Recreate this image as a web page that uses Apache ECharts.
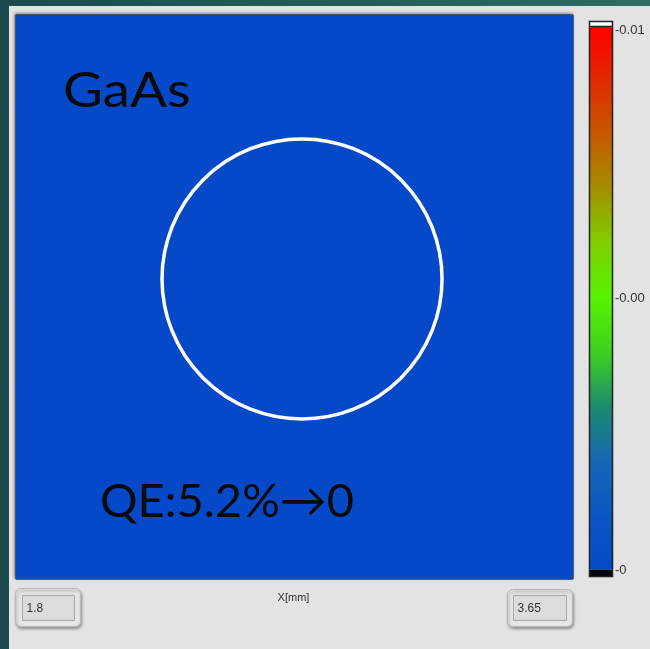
<!DOCTYPE html>
<html>
<head>
<meta charset="utf-8">
<title>GaAs QE map</title>
<script src="https://cdn.jsdelivr.net/npm/echarts@6/dist/echarts.min.js"></script>
<style>
  html, body { margin: 0; padding: 0; width: 650px; height: 649px; overflow: hidden;
    background: linear-gradient(90deg, #1c4a4e 0%, #27605b 60%, #2f6c62 100%); }
  #panel { position: absolute; left: 9px; top: 6px; width: 641px; height: 643px; background: #e3e3e3; }
</style>
</head>
<body>
<div id="panel"></div>
<script>
// Sample label and measured photoemission drop
const sampleName = 'GaAs';
const qeLabel = 'QE:5.2%\u21920';

// X scan range [mm] shown in the corner boxes, Y range of the map [mm]
const xRange = [1.8, 3.65];
const yRange = [0, 1.87];
const xAxisName = 'X[mm]';

// Intensity scale: value range and its printed tick labels (top to bottom)
const scaleRange = [0, 0.01];
const scaleTickValues = [0.01, 0.005, 0];
const scaleTickLabels = ['-0.01', '-0.00', '-0'];

// Map cells (rows top to bottom); the cathode reads zero everywhere after the drop
const mapCols = ['c0', 'c1', 'c2', 'c3', 'c4', 'c5'];
const mapRows = ['r0', 'r1', 'r2', 'r3', 'r4', 'r5'];
const mapValues = [
  [0, 0, 0, 0, 0, 0],
  [0, 0, 0, 0, 0, 0],
  [0, 0, 0, 0, 0, 0],
  [0, 0, 0, 0, 0, 0],
  [0, 0, 0, 0, 0, 0],
  [0, 0, 0, 0, 0, 0]
];

// Laser spot outline: centre [mm] and radius [mm]
const spotCenter = [2.75, 0.995];
const spotRadius = 0.465;

const cells = [];
mapValues.forEach((row, r) => row.forEach((v, c) => cells.push([c, mapRows.length - 1 - r, v])));

// Colour ramp of the scale, low to high
const rampColors = ['#0649c8', '#0a55c4', '#1468b6', '#1c8a6c', '#3cd020', '#55f400', '#7fd000', '#a39000', '#c45a00', '#e02a00', '#ff0000'];

const chart = echarts.init(document.getElementById('panel'), null, { renderer: 'canvas' });

const G = { left: 7, top: 9, width: 557, height: 564 };
const BAR = { left: 580, top: 21, width: 24, height: 543 };

chart.setOption({
  backgroundColor: 'transparent',
  animation: false,
  grid: [
    { left: G.left, top: G.top, width: G.width, height: G.height, show: true,
      borderColor: '#1a1a1a', borderWidth: 1, backgroundColor: rampColors[0],
      shadowColor: 'rgba(0,0,0,0.45)', shadowBlur: 3, shadowOffsetX: -1, shadowOffsetY: -1 },
    { left: G.left, top: G.top, width: G.width, height: G.height }
  ],
  xAxis: [
    { type: 'category', gridIndex: 0, data: mapCols, show: false },
    { type: 'value', gridIndex: 1, min: xRange[0], max: xRange[1], show: false }
  ],
  yAxis: [
    { type: 'category', gridIndex: 0, data: mapRows, show: false },
    { type: 'value', gridIndex: 1, min: yRange[0], max: yRange[1], show: false }
  ],
  visualMap: {
    type: 'continuous', min: scaleRange[0], max: scaleRange[1],
    calculable: false, realtime: false, hoverLink: false,
    left: BAR.left, top: BAR.top, itemWidth: BAR.width, itemHeight: BAR.height,
    padding: 0, textGap: 0, text: null, showLabel: false,
    inRange: { color: rampColors },
    seriesIndex: 0
  },
  series: [{
    type: 'heatmap', xAxisIndex: 0, yAxisIndex: 0, data: cells,
    itemStyle: { borderWidth: 0 }, silent: true, progressive: 0
  }]
});

function build() {
  const c = chart.convertToPixel({ gridIndex: 1 }, spotCenter);
  const edge = chart.convertToPixel({ gridIndex: 1 }, [spotCenter[0] + spotRadius, spotCenter[1]]);
  const r = edge[0] - c[0];

  const barY = v => BAR.top + (scaleRange[1] - v) / (scaleRange[1] - scaleRange[0]) * BAR.height;

  const els = [];
  // spot outline
  els.push({ type: 'circle', shape: { cx: c[0], cy: c[1], r: r }, z: 50,
    style: { fill: 'transparent', stroke: '#ffffff', lineWidth: 3.5 } });
  // large annotations
  els.push({ type: 'text', x: 54, y: 86, scaleX: 1.14, z: 50,
    style: { text: sampleName, font: '400 48px "Lato", sans-serif', fill: '#0a0a0a', textVerticalAlign: 'middle' } });
  els.push({ type: 'text', x: 91, y: 496, z: 50,
    style: { text: qeLabel, font: '400 47px "Lato", sans-serif', fill: '#0a0a0a', textVerticalAlign: 'middle' } });

  // colour bar frame, over-range cap and under-range cap
  els.push({ type: 'rect', shape: { x: BAR.left, y: BAR.top - 5, width: BAR.width, height: 5 }, z: 50,
    style: { fill: '#ffffff' } });
  els.push({ type: 'rect', shape: { x: BAR.left, y: BAR.top + BAR.height, width: BAR.width, height: 7 }, z: 50,
    style: { fill: '#000000' } });
  els.push({ type: 'rect', shape: { x: BAR.left + 0.5, y: BAR.top - 5.5, width: BAR.width - 1, height: BAR.height + 12 }, z: 51,
    style: { fill: 'transparent', stroke: '#222', lineWidth: 1.5 } });
  els.push({ type: 'line', shape: { x1: BAR.left, y1: BAR.top - 0.5, x2: BAR.left + BAR.width, y2: BAR.top - 0.5 }, z: 51,
    style: { stroke: '#222', lineWidth: 1.5 } });
  scaleTickValues.forEach((v, i) => {
    els.push({ type: 'text', x: BAR.left + BAR.width + 2, y: barY(v) + (i === 0 ? 3 : 0), z: 50,
      style: { text: scaleTickLabels[i], font: '13px "Liberation Sans", sans-serif', fill: '#333', textVerticalAlign: 'middle' } });
  });

  // scan-range boxes
  const box = (x, y, w, h, ix, iy, iw, ih, txt) => {
    els.push({ type: 'rect', shape: { x: x, y: y, width: w, height: h, r: 5 }, z: 40,
      style: { fill: '#e6e6e6', stroke: '#b8b8b8', lineWidth: 1, shadowColor: 'rgba(0,0,0,0.35)', shadowBlur: 3, shadowOffsetX: 1, shadowOffsetY: 2 } });
    els.push({ type: 'rect', shape: { x: ix, y: iy, width: iw, height: ih }, z: 41,
      style: { fill: '#dcdcdc', stroke: '#a8a8a8', lineWidth: 1 } });
    els.push({ type: 'text', x: ix + 4, y: iy + ih / 2 + 1, z: 42,
      style: { text: txt, font: '12px "Liberation Sans", sans-serif', fill: '#333', textVerticalAlign: 'middle' } });
  };
  box(6.5, 582.5, 65, 38, 13.5, 589.5, 52, 25, String(xRange[0]));
  box(498.5, 583.5, 65, 37, 504.5, 589.5, 53, 25, String(xRange[1]));
  els.push({ type: 'text', x: G.left + G.width / 2 - 1, y: 592, z: 42,
    style: { text: xAxisName, font: '11px "Liberation Sans", sans-serif', fill: '#333', textAlign: 'center', textVerticalAlign: 'middle' } });

  chart.setOption({ graphic: { elements: els } });
}
build();
</script>
</body>
</html>
